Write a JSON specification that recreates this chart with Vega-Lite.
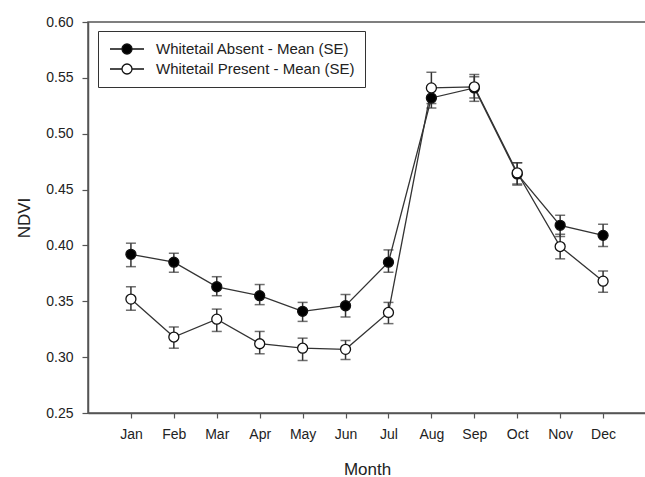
{
  "$schema": "https://vega.github.io/schema/vega-lite/v6.json",
  "autosize": {"type": "none"},
  "padding": {"left": 88, "top": 22, "right": 0, "bottom": 64},
  "width": 558,
  "height": 391,
  "background": "white",
  "config": {
    "font": "Liberation Sans",
    "view": {"stroke": "#555", "strokeWidth": 1.5},
    "axis": {
      "grid": false,
      "domainColor": "#555",
      "domainWidth": 1.5,
      "tickColor": "#555",
      "tickWidth": 1.2,
      "labelFont": "Liberation Sans",
      "labelFontSize": 14,
      "labelColor": "#222",
      "titleFont": "Liberation Sans",
      "titleFontSize": 17,
      "titleFontWeight": "normal",
      "titleColor": "#222"
    },
    "legend": {
      "labelFont": "Liberation Sans",
      "labelFontSize": 15,
      "labelColor": "#222"
    }
  },
  "data": {
    "values": [
      {"month": "Jan", "group": "Whitetail Absent - Mean (SE)", "mean": 0.392, "lo": 0.381, "hi": 0.402},
      {"month": "Feb", "group": "Whitetail Absent - Mean (SE)", "mean": 0.385, "lo": 0.376, "hi": 0.393},
      {"month": "Mar", "group": "Whitetail Absent - Mean (SE)", "mean": 0.363, "lo": 0.355, "hi": 0.372},
      {"month": "Apr", "group": "Whitetail Absent - Mean (SE)", "mean": 0.355, "lo": 0.347, "hi": 0.365},
      {"month": "May", "group": "Whitetail Absent - Mean (SE)", "mean": 0.341, "lo": 0.332, "hi": 0.349},
      {"month": "Jun", "group": "Whitetail Absent - Mean (SE)", "mean": 0.346, "lo": 0.336, "hi": 0.356},
      {"month": "Jul", "group": "Whitetail Absent - Mean (SE)", "mean": 0.385, "lo": 0.376, "hi": 0.396},
      {"month": "Aug", "group": "Whitetail Absent - Mean (SE)", "mean": 0.532, "lo": 0.523, "hi": 0.541},
      {"month": "Sep", "group": "Whitetail Absent - Mean (SE)", "mean": 0.541, "lo": 0.529, "hi": 0.553},
      {"month": "Oct", "group": "Whitetail Absent - Mean (SE)", "mean": 0.464, "lo": 0.455, "hi": 0.474},
      {"month": "Nov", "group": "Whitetail Absent - Mean (SE)", "mean": 0.418, "lo": 0.408, "hi": 0.427},
      {"month": "Dec", "group": "Whitetail Absent - Mean (SE)", "mean": 0.409, "lo": 0.399, "hi": 0.419},
      {"month": "Jan", "group": "Whitetail Present - Mean (SE)", "mean": 0.352, "lo": 0.342, "hi": 0.363},
      {"month": "Feb", "group": "Whitetail Present - Mean (SE)", "mean": 0.318, "lo": 0.308, "hi": 0.327},
      {"month": "Mar", "group": "Whitetail Present - Mean (SE)", "mean": 0.334, "lo": 0.323, "hi": 0.343},
      {"month": "Apr", "group": "Whitetail Present - Mean (SE)", "mean": 0.312, "lo": 0.303, "hi": 0.323},
      {"month": "May", "group": "Whitetail Present - Mean (SE)", "mean": 0.308, "lo": 0.297, "hi": 0.317},
      {"month": "Jun", "group": "Whitetail Present - Mean (SE)", "mean": 0.307, "lo": 0.298, "hi": 0.315},
      {"month": "Jul", "group": "Whitetail Present - Mean (SE)", "mean": 0.340, "lo": 0.330, "hi": 0.349},
      {"month": "Aug", "group": "Whitetail Present - Mean (SE)", "mean": 0.541, "lo": 0.527, "hi": 0.555},
      {"month": "Sep", "group": "Whitetail Present - Mean (SE)", "mean": 0.542, "lo": 0.532, "hi": 0.551},
      {"month": "Oct", "group": "Whitetail Present - Mean (SE)", "mean": 0.465, "lo": 0.454, "hi": 0.474},
      {"month": "Nov", "group": "Whitetail Present - Mean (SE)", "mean": 0.399, "lo": 0.388, "hi": 0.410},
      {"month": "Dec", "group": "Whitetail Present - Mean (SE)", "mean": 0.368, "lo": 0.358, "hi": 0.377}
    ]
  },
  "encoding": {
    "x": {
      "field": "month",
      "type": "ordinal",
      "sort": ["Jan","Feb","Mar","Apr","May","Jun","Jul","Aug","Sep","Oct","Nov","Dec"],
      "scale": {"type": "point", "padding": 1},
      "axis": {"title": "Month", "labelAngle": 0, "tickSize": 5, "labelPadding": 9, "titlePadding": 20}
    }
  },
  "layer": [
    {
      "mark": {"type": "rule", "color": "#333", "strokeWidth": 1.5},
      "encoding": {
        "y": {"field": "lo", "type": "quantitative", "scale": {"domain": [0.25, 0.6], "nice": false, "zero": false},
          "axis": {"title": "NDVI", "values": [0.25,0.3,0.35,0.4,0.45,0.5,0.55,0.6], "format": ".2f", "tickSize": 6, "labelPadding": 9, "titlePadding": 12}},
        "y2": {"field": "hi"},
        "detail": {"field": "group"}
      }
    },
    {
      "mark": {"type": "tick", "color": "#333", "thickness": 1.5, "size": 10},
      "encoding": {
        "y": {"field": "lo", "type": "quantitative"},
        "detail": {"field": "group"}
      }
    },
    {
      "mark": {"type": "tick", "color": "#333", "thickness": 1.5, "size": 10},
      "encoding": {
        "y": {"field": "hi", "type": "quantitative"},
        "detail": {"field": "group"}
      }
    },
    {
      "mark": {"type": "line", "color": "#333", "strokeWidth": 1.3},
      "encoding": {
        "y": {"field": "mean", "type": "quantitative"},
        "detail": {"field": "group"}
      }
    },
    {
      "mark": {"type": "point", "shape": "circle", "filled": false, "size": 100, "stroke": "#111", "strokeWidth": 1.3, "opacity": 1},
      "encoding": {
        "y": {"field": "mean", "type": "quantitative"},
        "fill": {
          "field": "group",
          "type": "nominal",
          "scale": {"range": ["#000000", "#ffffff"]},
          "legend": {
            "title": null,
            "orient": "none",
            "legendX": 10,
            "legendY": 9,
            "padding": 10,
            "strokeColor": "#333",
            "fillColor": "white",
            "symbolType": "M-2.43,0L-0.714,0M0.714,0L2.43,0M0.714,0A0.714,0.714,0,1,1,-0.714,0A0.714,0.714,0,1,1,0.714,0Z",
            "symbolSize": 196,
            "symbolStrokeColor": "#111",
            "symbolStrokeWidth": 1.3,
            "symbolOffset": 11,
            "labelOffset": 21,
            "rowPadding": 4,
            "labelLimit": 400
          }
        }
      }
    }
  ]
}
